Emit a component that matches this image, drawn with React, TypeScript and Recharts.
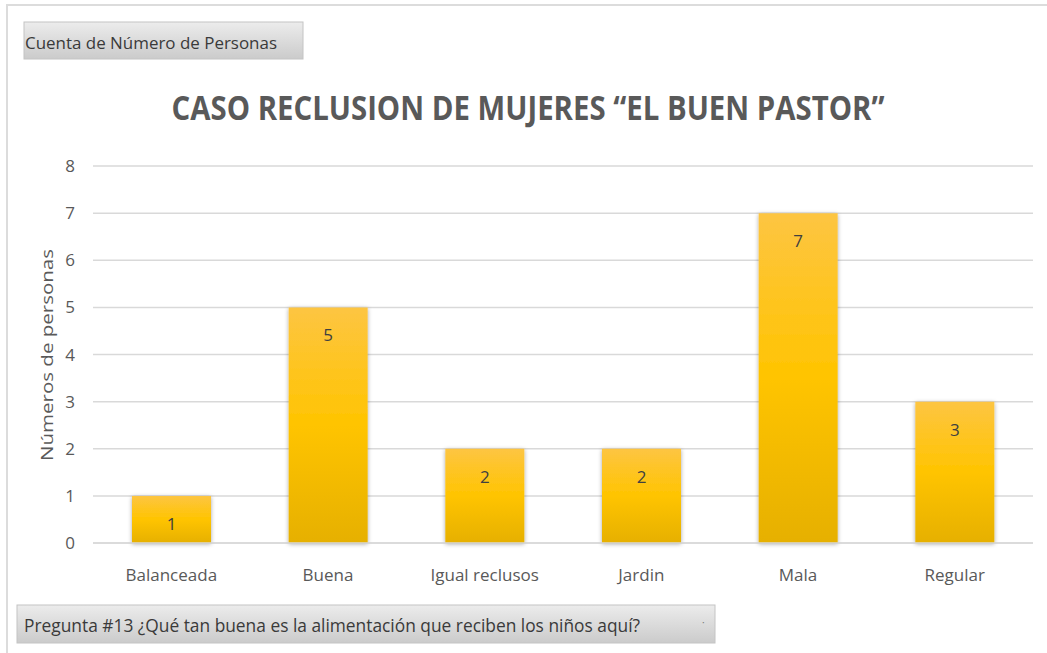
import { BarChart, Bar, XAxis, YAxis, CartesianGrid, LabelList } from "recharts";

const categories = ["Balanceada", "Buena", "Igual reclusos", "Jardin", "Mala", "Regular"];
const counts = [1, 5, 2, 2, 7, 3];
const yTicks = [0, 1, 2, 3, 4, 5, 6, 7, 8];

const chartTitle = "CASO RECLUSION DE MUJERES \u201CEL BUEN PASTOR\u201D";
const yLabel = "Números de personas";
const valueButton = "Cuenta de Número de Personas";
const axisButton = "Pregunta #13 ¿Qué tan buena es la alimentación que reciben los niños aquí?";

const data = categories.map((name, i) => ({ name, value: counts[i] }));

const font = "'Open Sans', 'Noto Sans', sans-serif";
const textGray = "#595959";

export default function App() {
  return (
    <div style={{ position: "absolute", left: 0, top: 0, width: 1047, height: 653, background: "#fff", overflow: "hidden" }}>
      <BarChart
        width={1047}
        height={653}
        data={data}
        margin={{ top: 166, right: 14, bottom: 80, left: 0 }}
        barSize={79}
      >
        <defs>
          <linearGradient id="barFill" x1="0" y1="0" x2="0" y2="1">
            <stop offset="0%" stopColor="#FDC542" />
            <stop offset="50%" stopColor="#FFC400" />
            <stop offset="100%" stopColor="#E6B000" />
          </linearGradient>
          <filter id="barShadow" x="-20%" y="-20%" width="140%" height="140%">
            <feDropShadow dx="0" dy="1" stdDeviation="2.2" floodColor="#000" floodOpacity="0.35" />
          </filter>
        </defs>
        <CartesianGrid vertical={false} stroke="#d9d9d9" strokeWidth={1.5} />
        <XAxis
          dataKey="name"
          height={30}
          axisLine={{ stroke: "#d9d9d9", strokeWidth: 1.5 }}
          tickLine={false}
          tickMargin={20}
          tick={{ fill: textGray, fontSize: 17, fontFamily: font }}
          interval={0}
        />
        <YAxis
          width={93}
          domain={[0, 8]}
          ticks={yTicks}
          axisLine={false}
          tickLine={false}
          tickMargin={12}
          tick={{ fill: textGray, fontSize: 17, fontFamily: font }}
        />
        <Bar dataKey="value" fill="url(#barFill)" filter="url(#barShadow)" isAnimationActive={false}>
          <LabelList
            dataKey="value"
            position="insideTop"
            offset={22}
            fill="#404040"
            fontSize={17}
            fontFamily={font}
          />
        </Bar>
      </BarChart>

      <svg
        width={1047}
        height={653}
        style={{ position: "absolute", left: 0, top: 0, pointerEvents: "none" }}
      >
        <defs>
          <linearGradient id="btnFill" x1="0" y1="0" x2="0" y2="1">
            <stop offset="0%" stopColor="#ececec" />
            <stop offset="100%" stopColor="#cbcbcb" />
          </linearGradient>
        </defs>
        {/* outer frame */}
        <rect x={7} y={5} width={1060} height={670} fill="none" stroke="#dcdcdc" strokeWidth={2} />

        {/* field buttons */}
        <rect x={24} y={22} width={279} height={37} fill="url(#btnFill)" stroke="#c4c4c4" strokeWidth={1} />
        <text x={25} y={49} fontFamily={font} fontSize={17} fill="#3a3a3a" textLength={252} lengthAdjust="spacingAndGlyphs">
          {valueButton}
        </text>

        <rect x={17} y={605} width={698} height={38} fill="url(#btnFill)" stroke="#c4c4c4" strokeWidth={1} />
        <text x={24} y={632} fontFamily={font} fontSize={18} fill="#3a3a3a" textLength={616} lengthAdjust="spacingAndGlyphs">
          {axisButton}
        </text>
        <text x={702} y={626} fontFamily={font} fontSize={10} fill="#777">·</text>

        {/* title */}
        <text x={528} y={120} textAnchor="middle" fontFamily={font} fontWeight={700} fontSize={34} fill={textGray} textLength={713} lengthAdjust="spacingAndGlyphs">
          {chartTitle}
        </text>

        {/* y axis title */}
        <text
          x={0}
          y={0}
          transform="translate(53 355) rotate(-90)"
          textAnchor="middle"
          fontFamily={font}
          fontSize={17}
          fill={textGray}
          textLength={212}
          lengthAdjust="spacingAndGlyphs"
        >
          {yLabel}
        </text>
      </svg>
    </div>
  );
}
